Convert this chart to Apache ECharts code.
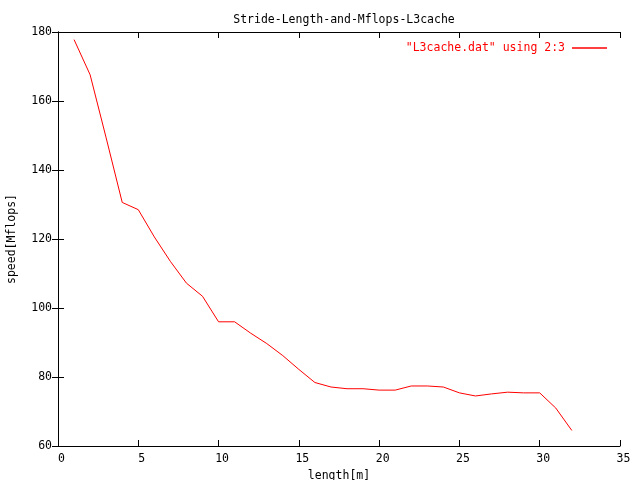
<!DOCTYPE html>
<html><head><meta charset="utf-8">
<script src="https://cdn.jsdelivr.net/npm/echarts@6/dist/echarts.min.js"></script>
<style>html,body{margin:0;padding:0;background:#fff}#c{width:640px;height:480px}</style>
</head><body><div id="c"></div>
<script>
const titleText = 'Stride-Length-and-Mflops-L3cache';
const seriesName = '"L3cache.dat" using 2:3';
const xValues = [1,2,3,4,5,6,7,8,9,10,11,12,13,14,15,16,17,18,19,20,21,22,23,24,25,26,27,28,29,30,31,32];
const yValues = [177.8,167.6,149.3,130.6,128.5,120.6,113.5,107.2,103.4,96,96,92.7,89.7,86.2,82.2,78.4,77.1,76.6,76.6,76.2,76.2,77.4,77.4,77.1,75.4,74.5,75.1,75.6,75.4,75.4,71,64.5];
const xLabel = 'length[m]';
const yLabel = 'speed[Mflops]';
const font = 'DejaVu Sans Mono';

const chart = echarts.init(document.getElementById('c'), null, {renderer:'canvas'});
const axisLineStyle = {show:true, lineStyle:{color:'#000', width:1}};
const tick = {show:true, inside:true, length:6, lineStyle:{color:'#000'}};
chart.setOption({
  animation:false,
  backgroundColor:'#fff',
  title:{text:titleText, left:339, textAlign:'center', top:9, textStyle:{fontFamily:font, fontSize:11.5, fontWeight:'normal', color:'#000'}},
  legend:{data:[{name:seriesName, icon:'rect'}], right:28, top:37, align:'right', itemWidth:35, itemHeight:1.5, itemGap:0,
    textStyle:{fontFamily:font, fontSize:11.5, color:'#f00', padding:[0,2,0,0]}},
  grid:{left:58, right:20, top:32, bottom:34, containLabel:false, outerBoundsMode:'none'},
  xAxis:[{type:'value', min:0, max:35, interval:5, axisLine:axisLineStyle, axisTick:tick, splitLine:{show:false},
    axisLabel:{fontFamily:font, fontSize:11.5, color:'#000', margin:7, padding:[0,0,0,7]},
    name:xLabel, nameLocation:'middle', nameGap:20, nameTextStyle:{fontFamily:font, fontSize:11.5, color:'#000'}},
    {type:'value', position:'top', min:0, max:35, interval:5, axisLine:axisLineStyle, axisTick:tick, axisLabel:{show:false}, splitLine:{show:false}}],
  yAxis:[{type:'value', min:60, max:180, interval:20, axisLine:axisLineStyle, axisTick:tick, splitLine:{show:false},
    axisLabel:{fontFamily:font, fontSize:11.5, color:'#000', margin:6},
    name:yLabel, nameLocation:'middle', nameGap:40, nameRotate:90, nameTextStyle:{fontFamily:font, fontSize:11.5, color:'#000'}},
    {type:'value', position:'right', min:60, max:180, interval:20, axisLine:axisLineStyle, axisTick:tick, axisLabel:{show:false}, splitLine:{show:false}}],
  series:[{name:seriesName, type:'line', data:xValues.map((x,i)=>[x,yValues[i]]), showSymbol:false, symbol:'none',
    lineStyle:{color:'#f00', width:1}, itemStyle:{color:'#f00'}}]
});
</script></body></html>
